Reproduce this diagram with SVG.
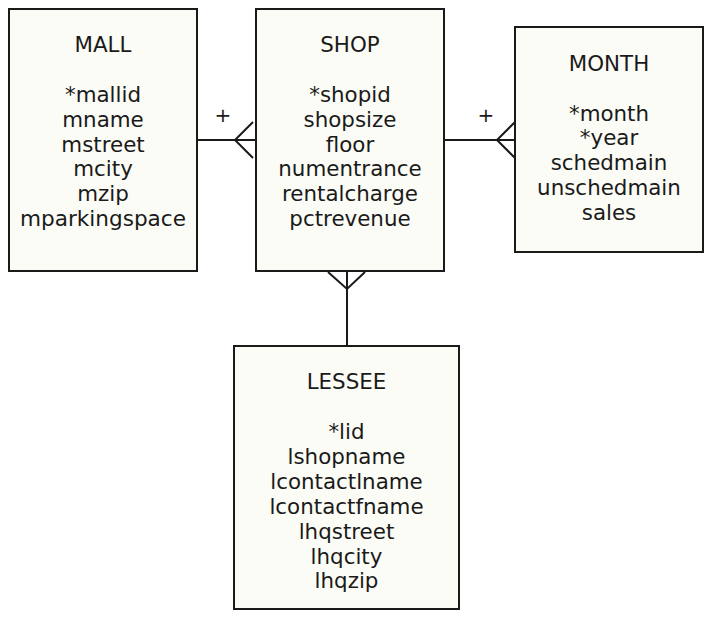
<svg xmlns="http://www.w3.org/2000/svg" width="711" height="622" viewBox="0 0 711 622">
<style>
.box{fill:#fcfcf6;stroke:#1a1a1a;stroke-width:2}
.t{font-family:"DejaVu Sans","Open Sans",sans-serif;font-size:21.4px;fill:#1a1a1a;text-anchor:middle}
.c{stroke:#1a1a1a;stroke-width:2;fill:none}
.p{font-family:"DejaVu Sans","Open Sans",sans-serif;font-size:20px;fill:#1a1a1a;text-anchor:middle}
</style>
<rect width="711" height="622" fill="#ffffff"/>
<g id="connectors">
<line class="c" x1="197" y1="140" x2="256" y2="140"/>
<polyline class="c" points="253,122 235,140 253,158"/>
<text class="p" x="223" y="122">+</text>
<line class="c" x1="444" y1="140" x2="515" y2="140"/>
<polyline class="c" points="515,122 497,140 515,158"/>
<text class="p" x="486" y="122">+</text>
<line class="c" x1="347" y1="271" x2="347" y2="346"/>
<polyline class="c" points="328,272 347,289 365,272"/>
</g>
<g id="MALL">
<rect class="box" x="9" y="9" width="188" height="262"/>
<text class="t" x="103" y="52">MALL</text>
<text class="t" x="103" y="101.7">*mallid</text>
<text class="t" x="103" y="126.6">mname</text>
<text class="t" x="103" y="151.5">mstreet</text>
<text class="t" x="103" y="176.4">mcity</text>
<text class="t" x="103" y="201.3">mzip</text>
<text class="t" x="103" y="226.2" textLength="166" lengthAdjust="spacingAndGlyphs">mparkingspace</text>
</g>
<g id="SHOP">
<rect class="box" x="256" y="9" width="188" height="262"/>
<text class="t" x="350" y="52">SHOP</text>
<text class="t" x="350" y="101.7">*shopid</text>
<text class="t" x="350" y="126.6">shopsize</text>
<text class="t" x="350" y="151.5">floor</text>
<text class="t" x="350" y="176.4">numentrance</text>
<text class="t" x="350" y="201.3">rentalcharge</text>
<text class="t" x="350" y="226.2">pctrevenue</text>
</g>
<g id="MONTH">
<rect class="box" x="515" y="27" width="188" height="225"/>
<text class="t" x="609" y="70.7">MONTH</text>
<text class="t" x="609" y="120.5">*month</text>
<text class="t" x="609" y="145.4">*year</text>
<text class="t" x="609" y="170.3">schedmain</text>
<text class="t" x="609" y="195.2">unschedmain</text>
<text class="t" x="609" y="220.1">sales</text>
</g>
<g id="LESSEE">
<rect class="box" x="234" y="346" width="225" height="263"/>
<text class="t" x="346.5" y="389">LESSEE</text>
<text class="t" x="346.5" y="439">*lid</text>
<text class="t" x="346.5" y="463.9">lshopname</text>
<text class="t" x="346.5" y="488.8">lcontactlname</text>
<text class="t" x="346.5" y="513.7">lcontactfname</text>
<text class="t" x="346.5" y="538.6">lhqstreet</text>
<text class="t" x="346.5" y="563.5">lhqcity</text>
<text class="t" x="346.5" y="588.4">lhqzip</text>
</g>
</svg>
